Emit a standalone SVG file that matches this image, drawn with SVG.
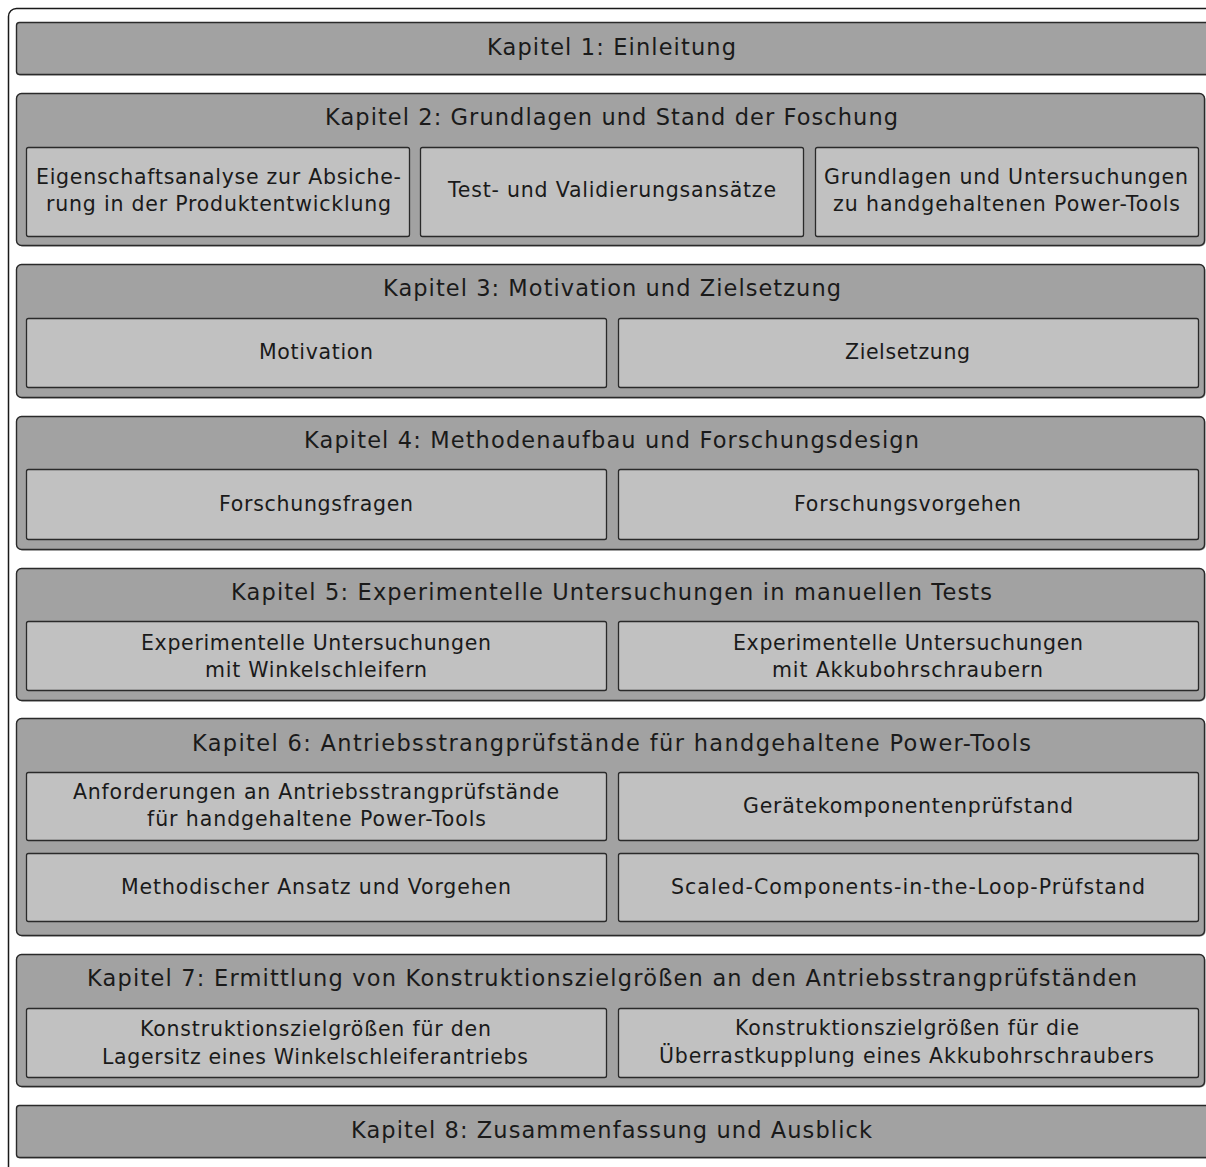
<svg xmlns="http://www.w3.org/2000/svg" width="1206" height="1167" viewBox="0 0 1206 1167">
  <style>
    .frame { fill: #ffffff; stroke: #1a1a1a; stroke-width: 1.5; }
    .chap { fill: #a2a2a2; stroke: #2a2a2a; stroke-width: 1.4; }
    .box { fill: #c1c1c1; stroke: #2a2a2a; stroke-width: 1.3; }
    .shadow { fill: #3a3a3a; opacity: 0.55; }
    text { font-family: "DejaVu Sans", Verdana, sans-serif; fill: #1a1a1a; text-anchor: middle; }
    .title { font-size: 22.5px; }
    .label { font-size: 20.5px; }
  </style>

  <!-- outer frame -->
  <rect class="frame" x="8.5" y="8.5" width="1260" height="1200" rx="8"/>

  <!-- Kapitel 1 -->
  <g id="kapitel1">
    <rect class="shadow" x="17.5" y="23.5" width="1200" height="52" rx="3"/>
    <rect class="chap" x="16.5" y="22.5" width="1200" height="52" rx="3"/>
    <text class="title" x="611.5" y="55" textLength="249" lengthAdjust="spacing">Kapitel 1: Einleitung</text>
  </g>

  <!-- Kapitel 2 -->
  <g id="kapitel2">
    <rect class="shadow" x="17.5" y="94.5" width="1188" height="152" rx="5"/>
    <rect class="chap" x="16.5" y="93.5" width="1188" height="152" rx="5"/>
    <text class="title" x="611.5" y="125" textLength="573" lengthAdjust="spacing">Kapitel 2: Grundlagen und Stand der Foschung</text>
    <g id="k2-eigenschaftsanalyse">
      <rect class="shadow" x="27" y="148" width="383" height="89" rx="2"/>
      <rect class="box" x="26.5" y="147.5" width="383" height="89" rx="2"/>
      <text class="label" x="218.5" y="184" textLength="365" lengthAdjust="spacing">Eigenschaftsanalyse zur Absiche-</text>
      <text class="label" x="218.5" y="211" textLength="345" lengthAdjust="spacing">rung in der Produktentwicklung</text>
    </g>
    <g id="k2-testansaetze">
      <rect class="shadow" x="421" y="148" width="383" height="89" rx="2"/>
      <rect class="box" x="420.5" y="147.5" width="383" height="89" rx="2"/>
      <text class="label" x="612" y="197" textLength="328" lengthAdjust="spacing">Test- und Validierungsansätze</text>
    </g>
    <g id="k2-powertools">
      <rect class="shadow" x="816" y="148" width="383" height="89" rx="2"/>
      <rect class="box" x="815.5" y="147.5" width="383" height="89" rx="2"/>
      <text class="label" x="1006" y="184" textLength="364" lengthAdjust="spacing">Grundlagen und Untersuchungen</text>
      <text class="label" x="1006.5" y="211" textLength="347" lengthAdjust="spacing">zu handgehaltenen Power-Tools</text>
    </g>
  </g>

  <!-- Kapitel 3 -->
  <g id="kapitel3">
    <rect class="shadow" x="17.5" y="265.5" width="1188" height="133" rx="5"/>
    <rect class="chap" x="16.5" y="264.5" width="1188" height="133" rx="5"/>
    <text class="title" x="612" y="296" textLength="458" lengthAdjust="spacing">Kapitel 3: Motivation und Zielsetzung</text>
    <g id="k3-motivation">
      <rect class="shadow" x="27" y="319" width="580" height="69" rx="2"/>
      <rect class="box" x="26.5" y="318.5" width="580" height="69" rx="2"/>
      <text class="label" x="316" y="359" textLength="114" lengthAdjust="spacing">Motivation</text>
    </g>
    <g id="k3-zielsetzung">
      <rect class="shadow" x="619" y="319" width="580" height="69" rx="2"/>
      <rect class="box" x="618.5" y="318.5" width="580" height="69" rx="2"/>
      <text class="label" x="907.5" y="359" textLength="125" lengthAdjust="spacing">Zielsetzung</text>
    </g>
  </g>

  <!-- Kapitel 4 -->
  <g id="kapitel4">
    <rect class="shadow" x="17.5" y="417.5" width="1188" height="133" rx="5"/>
    <rect class="chap" x="16.5" y="416.5" width="1188" height="133" rx="5"/>
    <text class="title" x="611.5" y="448" textLength="615" lengthAdjust="spacing">Kapitel 4: Methodenaufbau und Forschungsdesign</text>
    <g id="k4-forschungsfragen">
      <rect class="shadow" x="27" y="470" width="580" height="70" rx="2"/>
      <rect class="box" x="26.5" y="469.5" width="580" height="70" rx="2"/>
      <text class="label" x="316" y="511" textLength="194" lengthAdjust="spacing">Forschungsfragen</text>
    </g>
    <g id="k4-forschungsvorgehen">
      <rect class="shadow" x="619" y="470" width="580" height="70" rx="2"/>
      <rect class="box" x="618.5" y="469.5" width="580" height="70" rx="2"/>
      <text class="label" x="907.5" y="511" textLength="227" lengthAdjust="spacing">Forschungsvorgehen</text>
    </g>
  </g>

  <!-- Kapitel 5 -->
  <g id="kapitel5">
    <rect class="shadow" x="17.5" y="569.5" width="1188" height="132" rx="5"/>
    <rect class="chap" x="16.5" y="568.5" width="1188" height="132" rx="5"/>
    <text class="title" x="611.5" y="600" textLength="761" lengthAdjust="spacing">Kapitel 5: Experimentelle Untersuchungen in manuellen Tests</text>
    <g id="k5-winkelschleifer">
      <rect class="shadow" x="27" y="622" width="580" height="69" rx="2"/>
      <rect class="box" x="26.5" y="621.5" width="580" height="69" rx="2"/>
      <text class="label" x="316" y="650" textLength="350" lengthAdjust="spacing">Experimentelle Untersuchungen</text>
      <text class="label" x="316" y="677" textLength="222" lengthAdjust="spacing">mit Winkelschleifern</text>
    </g>
    <g id="k5-akkubohrschrauber">
      <rect class="shadow" x="619" y="622" width="580" height="69" rx="2"/>
      <rect class="box" x="618.5" y="621.5" width="580" height="69" rx="2"/>
      <text class="label" x="908" y="650" textLength="350" lengthAdjust="spacing">Experimentelle Untersuchungen</text>
      <text class="label" x="907.5" y="677" textLength="271" lengthAdjust="spacing">mit Akkubohrschraubern</text>
    </g>
  </g>

  <!-- Kapitel 6 -->
  <g id="kapitel6">
    <rect class="shadow" x="17.5" y="719.5" width="1188" height="217" rx="5"/>
    <rect class="chap" x="16.5" y="718.5" width="1188" height="217" rx="5"/>
    <text class="title" x="611.5" y="751" textLength="839" lengthAdjust="spacing">Kapitel 6: Antriebsstrangprüfstände für handgehaltene Power-Tools</text>
    <g id="k6-anforderungen">
      <rect class="shadow" x="27" y="773" width="580" height="68" rx="2"/>
      <rect class="box" x="26.5" y="772.5" width="580" height="68" rx="2"/>
      <text class="label" x="316" y="799" textLength="486" lengthAdjust="spacing">Anforderungen an Antriebsstrangprüfstände</text>
      <text class="label" x="316.5" y="826" textLength="339" lengthAdjust="spacing">für handgehaltene Power-Tools</text>
    </g>
    <g id="k6-geraetekomponenten">
      <rect class="shadow" x="619" y="773" width="580" height="68" rx="2"/>
      <rect class="box" x="618.5" y="772.5" width="580" height="68" rx="2"/>
      <text class="label" x="908" y="813" textLength="330" lengthAdjust="spacing">Gerätekomponentenprüfstand</text>
    </g>
    <g id="k6-methodischer-ansatz">
      <rect class="shadow" x="27" y="854" width="580" height="68" rx="2"/>
      <rect class="box" x="26.5" y="853.5" width="580" height="68" rx="2"/>
      <text class="label" x="316" y="894" textLength="390" lengthAdjust="spacing">Methodischer Ansatz und Vorgehen</text>
    </g>
    <g id="k6-scaled-components">
      <rect class="shadow" x="619" y="854" width="580" height="68" rx="2"/>
      <rect class="box" x="618.5" y="853.5" width="580" height="68" rx="2"/>
      <text class="label" x="908" y="894" textLength="474" lengthAdjust="spacing">Scaled-Components-in-the-Loop-Prüfstand</text>
    </g>
  </g>

  <!-- Kapitel 7 -->
  <g id="kapitel7">
    <rect class="shadow" x="17.5" y="955.5" width="1188" height="132" rx="5"/>
    <rect class="chap" x="16.5" y="954.5" width="1188" height="132" rx="5"/>
    <text class="title" x="612" y="986" textLength="1050" lengthAdjust="spacing">Kapitel 7: Ermittlung von Konstruktionszielgrößen an den Antriebsstrangprüfständen</text>
    <g id="k7-lagersitz">
      <rect class="shadow" x="27" y="1009" width="580" height="69" rx="2"/>
      <rect class="box" x="26.5" y="1008.5" width="580" height="69" rx="2"/>
      <text class="label" x="315.5" y="1036" textLength="351" lengthAdjust="spacing">Konstruktionszielgrößen für den</text>
      <text class="label" x="315" y="1064" textLength="426" lengthAdjust="spacing">Lagersitz eines Winkelschleiferantriebs</text>
    </g>
    <g id="k7-ueberrastkupplung">
      <rect class="shadow" x="619" y="1009" width="580" height="69" rx="2"/>
      <rect class="box" x="618.5" y="1008.5" width="580" height="69" rx="2"/>
      <text class="label" x="907" y="1035" textLength="344" lengthAdjust="spacing">Konstruktionszielgrößen für die</text>
      <text class="label" x="906.5" y="1063" textLength="495" lengthAdjust="spacing">Überrastkupplung eines Akkubohrschraubers</text>
    </g>
  </g>

  <!-- Kapitel 8 -->
  <g id="kapitel8">
    <rect class="shadow" x="17.5" y="1106.5" width="1200" height="52" rx="3"/>
    <rect class="chap" x="16.5" y="1105.5" width="1200" height="52" rx="3"/>
    <text class="title" x="611.5" y="1138" textLength="521" lengthAdjust="spacing">Kapitel 8: Zusammenfassung und Ausblick</text>
  </g>
</svg>
